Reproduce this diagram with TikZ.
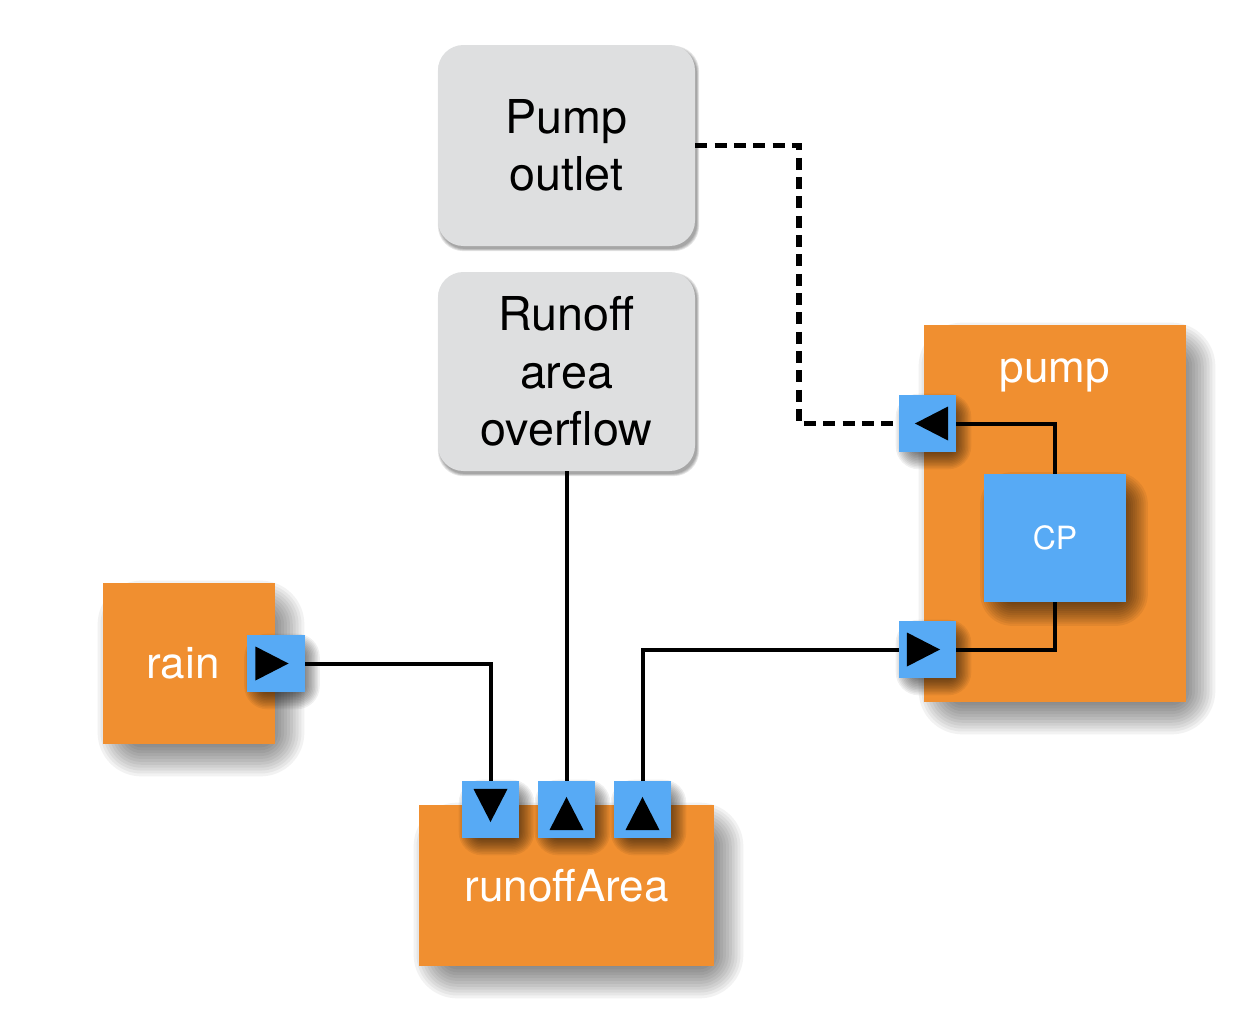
\documentclass[tikz,border=0pt]{standalone}
\usepackage{fontspec}
\setmainfont{TeX Gyre Heros}
\definecolor{boxorange}{RGB}{240,143,48}
\definecolor{portblue}{RGB}{87,170,245}
\definecolor{boxgray}{RGB}{222,223,224}
\tikzset{
  orangebox/.style={fill=boxorange, draw=none, inner sep=0pt, text=white,
    font=\fontsize{33}{40}\selectfont},
  graybox/.style={fill=boxgray, draw=none, rounded corners=19pt, inner sep=0pt,
    minimum width=192.75pt, align=center, font=\fontsize{35}{43}\selectfont},
  cpbox/.style={fill=portblue, draw=none, inner sep=0pt, text=white,
    minimum width=106.5pt, minimum height=96pt, font=\fontsize{24}{28}\selectfont},
  portbox/.style={fill=portblue, draw=none, inner sep=0pt, minimum size=42.75pt},
  tip/.style={fill=black, draw=none},
  wire/.style={line width=3pt, black},
  dashwire/.style={line width=3.8pt, black, dash pattern=on 9pt off 5.5pt},
  shadowlayer/.style={fill=black, draw=none, opacity=#1},
}
% soft shadow: #1 node, #2 dx px, #3 dy px, #4 blur radius px, #5 layer opacity
\newcommand{\softshadow}[5]{%
  \foreach \k in {0,...,19}{%
    \pgfmathsetmacro{\e}{#4*(0.45-1.45*\k/19)}%
    \pgfmathsetmacro{\rc}{max(\e+#4*0.7,0.2)*0.75}%
    \fill[shadowlayer=#5, rounded corners=\rc pt]
      ([shift={(#2-\e,#3+\e)}]#1.south west) rectangle ([shift={(#2+\e,#3-\e)}]#1.north east);
  }}
% triangle inside a port: #1 node name, #2 direction angle
\newcommand{\porttip}[2]{%
  \fill[tip] (#1.center) ++(#2:9.4pt) -- ++(#2+152.8:27.89pt) -- ++(#2-90:25.5pt) -- cycle;}
\begin{document}
\begin{tikzpicture}[x=0.75pt, y=-0.75pt]
\useasboundingbox (0,0) rectangle (1254,1018);
% placement helpers for the shadows
\path node[minimum width=196.5pt, minimum height=282.75pt, inner sep=0pt] (pumpS) at (1055,513.5) {}
      node[minimum width=129pt, minimum height=120.75pt, inner sep=0pt] (rainS) at (189,663.5) {}
      node[minimum width=221.25pt, minimum height=120.75pt, inner sep=0pt] (runoffS) at (566.5,885.5) {};
\softshadow{pumpS}{12}{15}{38}{0.052}
\softshadow{rainS}{12}{15}{38}{0.052}
\softshadow{runoffS}{12}{15}{38}{0.052}
% main boxes
\node[orangebox, minimum width=196.5pt, minimum height=282.75pt] (pump) at (1055,513.5) {};
\node[text=white, font=\fontsize{33}{40}\selectfont] (pumpLabel) at (1055,375) {pump};
\node[orangebox, minimum width=129pt, minimum height=120.75pt] (rain) at (189,663.5) {\hspace*{-9pt}rain};
\node[orangebox, minimum width=221.25pt, minimum height=120.75pt] (runoff) at (566.5,885.5) {runoffArea};
% gray boxes with a thin shadow
\foreach \cy/\hh in {145.5/100.5, 371.5/99.5}{
  \foreach \k in {0,...,3}{
    \fill[shadowlayer=0.1, rounded corners=19pt]
      ({566.5-128.5+2-\k*0.7},{\cy+\hh+3+\k*0.7}) rectangle ({566.5+128.5+2+\k*0.7},{\cy-\hh+3-\k*0.7});
  }
}
\node[graybox, minimum height=150.75pt] (outlet) at (566.5,145.5) {Pump\\outlet};
\node[graybox, minimum height=149.25pt] (overflow) at (566.5,371.5) {Runoff\\area\\overflow};
% CP
\path node[minimum width=106.5pt, minimum height=96pt, inner sep=0pt] (cpS) at (1055,538) {};
\softshadow{cpS}{9}{11}{28}{0.058}
\node[cpbox] (cp) at (1055,538) {CP};
\coordinate (bend) at (799,145.5);
% ports
\node[portbox] (rainOut) at (276,663.5) {};
\node[portbox] (pumpIn) at (927.5,423.5) {};
\node[portbox] (pumpOut) at (927.5,649.5) {};
\node[portbox] (raIn1) at (490.5,809.5) {};
\node[portbox] (raIn2) at (566.5,809.5) {};
\node[portbox] (raIn3) at (642.5,809.5) {};
\foreach \p in {rainOut,pumpIn,pumpOut,raIn1,raIn2,raIn3}{
  \softshadow{\p}{6}{8}{20}{0.06}
}
% connectors
\draw[wire] (rainOut.east) -| (raIn1.north);
\draw[wire] (overflow.south) -- (raIn2.north);
\draw[wire] (pumpOut.west) -| (raIn3.north);
\draw[wire] (pumpIn.east) -| (cp.north);
\draw[wire] (cp.south) |- (pumpOut.east);
\draw[dashwire] (outlet.east) -- (bend) |- (pumpIn.west);
% port faces on top of the wire ends and shadows
\foreach \p in {rainOut,pumpIn,pumpOut,raIn1,raIn2,raIn3}{
  \fill[portblue] (\p.south west) rectangle (\p.north east);
}
\porttip{rainOut}{0}
\porttip{pumpIn}{180}
\porttip{pumpOut}{0}
\porttip{raIn1}{-90}
\porttip{raIn2}{90}
\porttip{raIn3}{90}
\end{tikzpicture}
\end{document}
